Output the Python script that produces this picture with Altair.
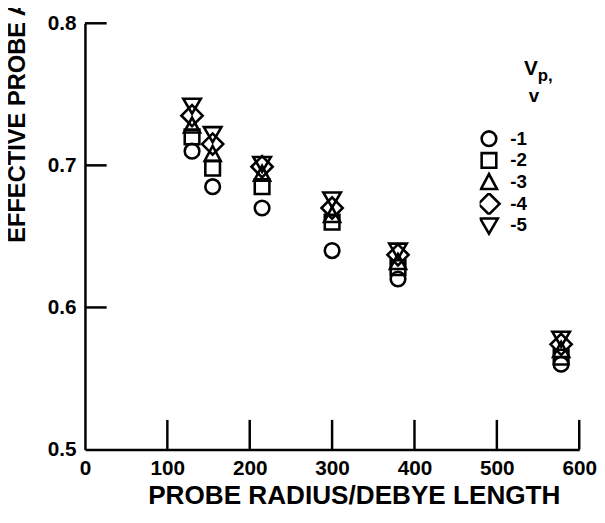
import altair as alt
import pandas as pd

# ---- data ----
vp_labels = ["-1", "-2", "-3", "-4", "-5"]
radius_ratio = [130, 155, 215, 300, 380, 578]
area_vp1 = [0.710, 0.685, 0.670, 0.640, 0.620, 0.560]
area_vp2 = [0.720, 0.698, 0.685, 0.660, 0.628, 0.565]
area_vp3 = [0.728, 0.708, 0.694, 0.665, 0.632, 0.570]
area_vp4 = [0.735, 0.715, 0.699, 0.670, 0.637, 0.574]
area_vp5 = [0.742, 0.722, 0.701, 0.676, 0.640, 0.578]
x_ticks = [0, 100, 200, 300, 400, 500, 600]
y_ticks = [0.5, 0.6, 0.7, 0.8]

series = [area_vp1, area_vp2, area_vp3, area_vp4, area_vp5]
rows = []
for lab, vals in zip(vp_labels, series):
    for r, a in zip(radius_ratio, vals):
        rows.append({"ratio": r, "area": a, "vp": lab})
df = pd.DataFrame(rows)

FONT = "Liberation Sans"
W, H = 501, 432

shapes = [
    "circle",
    "square",
    "M-1.1,0.95H1.1L0,-1.1Z",
    "M-1.45,0L0,-1.45L1.45,0L0,1.45Z",
    "M-1.2,-0.95H1.2L0,1.1Z",
]

X = alt.X(
    "ratio:Q",
    scale=alt.Scale(domain=[0, 600], nice=False, zero=False),
    axis=alt.Axis(
        values=x_ticks, format="d", ticks=False, grid=False,
        domainColor="black", domainWidth=2.5,
        labelFont=FONT, labelFontSize=21, labelFontWeight="bold",
        labelColor="black", labelPadding=8,
        labelFlush=False, labelOverlap=False,
        title="PROBE RADIUS/DEBYE LENGTH", titleFont=FONT, titleFontSize=26.5,
        titleFontWeight="bold", titleColor="black", titlePadding=5,
        titleX=W / 2 + 22, titleAlign="center",
    ),
)
Y = alt.Y(
    "area:Q",
    scale=alt.Scale(domain=[0.5, 0.8], nice=False, zero=False),
    axis=alt.Axis(
        values=y_ticks, format=".1f", ticks=False, grid=False,
        domainColor="black", domainWidth=2.5,
        labelFont=FONT, labelFontSize=21, labelFontWeight="bold",
        labelColor="black", labelPadding=9,
        labelFlush=False, labelOverlap=False,
        title="EFFECTIVE PROBE AREA/PROBE AREA", titleFont=FONT, titleFontSize=24,
        titleFontWeight="bold", titleColor="black",
        titleAngle=270, titleAlign="left", titleBaseline="middle",
        titleX=-68, titleY=222,
    ),
)

xt = alt.Chart(pd.DataFrame({"ratio": x_ticks[1:]})).mark_rule(
    color="black", strokeWidth=2.5
).encode(x=X, y=alt.value(H), y2=alt.value(H - 30))

yt = alt.Chart(pd.DataFrame({"area": y_ticks[1:]})).mark_rule(
    color="black", strokeWidth=2.5
).encode(y=Y, x=alt.value(0), x2=alt.value(22))

points = alt.Chart(df).mark_point(
    filled=False, color="black", strokeWidth=2.6, size=220, opacity=1
).encode(
    x=X,
    y=Y,
    shape=alt.Shape(
        "vp:N",
        scale=alt.Scale(domain=vp_labels, range=shapes),
        legend=alt.Legend(
            title=None, orient="none", legendX=400, legendY=106, padding=0,
            symbolSize=220, symbolStrokeWidth=2.6, symbolStrokeColor="black",
            symbolFillColor="white", symbolOpacity=1,
            labelFont=FONT, labelFontSize=19, labelFontWeight="bold",
            labelColor="black", labelOffset=12, rowPadding=0, clipHeight=22,
        ),
    ),
)

t_v = alt.Chart(pd.DataFrame({"t": ["V"]})).mark_text(
    font=FONT, fontSize=21, fontWeight="bold", color="black", align="left",
    baseline="alphabetic"
).encode(text="t:N", x=alt.value(445), y=alt.value(52))
t_p = alt.Chart(pd.DataFrame({"t": ["p,"]})).mark_text(
    font=FONT, fontSize=17, fontWeight="bold", color="black", align="left",
    baseline="alphabetic"
).encode(text="t:N", x=alt.value(459), y=alt.value(58))
t_u = alt.Chart(pd.DataFrame({"t": ["v"]})).mark_text(
    font=FONT, fontSize=19, fontWeight="bold", color="black", align="center",
    baseline="alphabetic"
).encode(text="t:N", x=alt.value(455), y=alt.value(80))

chart = alt.layer(yt, xt, points, t_v, t_p, t_u).properties(
    width=W, height=H,
    padding={"left": 78, "top": 12, "right": 18, "bottom": 71},
    autosize=alt.AutoSizeParams(type="none"),
).configure_view(stroke=None)

chart.save("out.html", embed_options={"renderer": "svg", "actions": False})
